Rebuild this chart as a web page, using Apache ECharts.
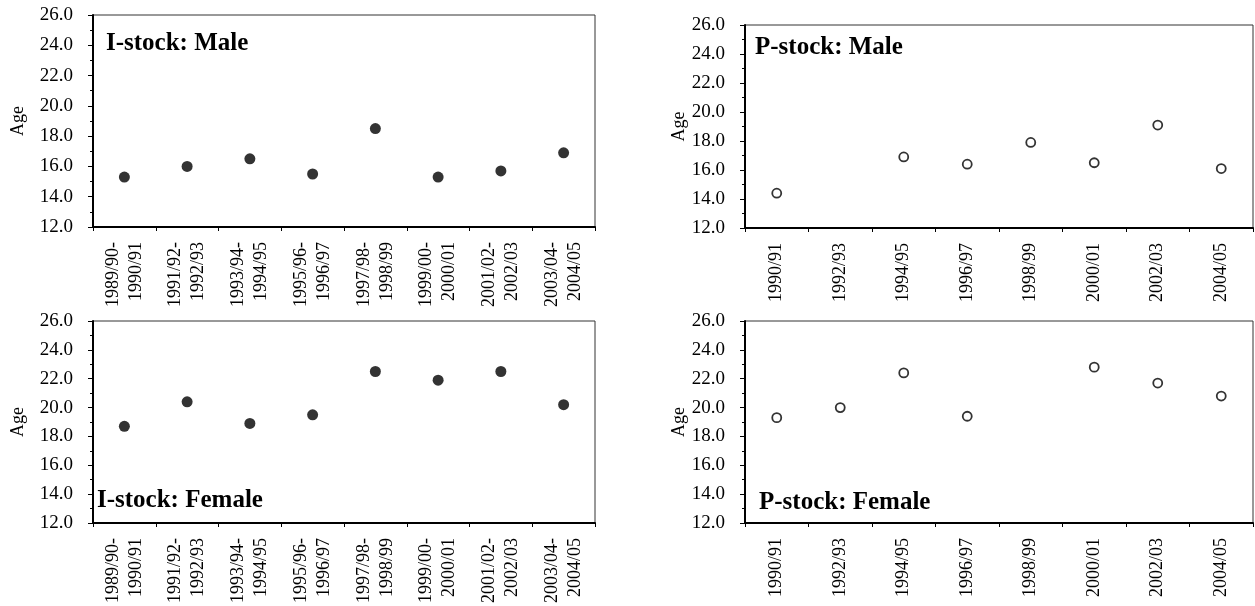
<!DOCTYPE html>
<html>
<head>
<meta charset="utf-8">
<script src="https://cdn.jsdelivr.net/npm/echarts@6/dist/echarts.min.js"></script>
<style>
  html, body { margin: 0; padding: 0; background: #fff; }
  #chart { width: 1255px; height: 606px; }
</style>
</head>
<body>
<div id="chart"></div>
<script>
// categories
const iStockYears = ['1989/90-\n1990/91', '1991/92-\n1992/93', '1993/94-\n1994/95', '1995/96-\n1996/97',
  '1997/98-\n1998/99', '1999/00-\n2000/01', '2001/02-\n2002/03', '2003/04-\n2004/05']
const pStockYears = ['1990/91', '1992/93', '1994/95', '1996/97', '1998/99', '2000/01', '2002/03', '2004/05']

// mean age values
const iStockMale = [15.3, 16.0, 16.5, 15.5, 18.5, 15.3, 15.7, 16.9]
const iStockFemale = [18.7, 20.4, 18.9, 19.5, 22.5, 21.9, 22.5, 20.2]
const pStockMale = [14.4, null, 16.9, 16.4, 17.9, 16.5, 19.1, 16.1]
const pStockFemale = [19.3, 20.0, 22.4, 19.4, null, 22.8, 21.7, 20.8]

const panelTitles = ['I-stock: Male', 'I-stock: Female', 'P-stock: Male', 'P-stock: Female']

const FONT = 'Liberation Serif'

const chart = echarts.init(document.getElementById('chart'))

// plot areas (left panels, right panels)
const grids = [
  { left: 93, top: 15, width: 502, height: 212 },
  { left: 93, top: 321, width: 502, height: 202 },
  { left: 745, top: 25, width: 508, height: 203 },
  { left: 745, top: 321, width: 508, height: 202 }
]

function makeXAxis(idx, cats) {
  return {
    type: 'category',
    gridIndex: idx,
    data: cats,
    boundaryGap: true,
    axisLine: { lineStyle: { color: '#000', width: 2 } },
    axisTick: { show: true, length: 4, lineStyle: { color: '#000' } },
    axisLabel: {
      interval: 0,
      rotate: 90,
      margin: 15,
      color: '#000',
      fontFamily: FONT,
      fontSize: 18,
      lineHeight: 23
    },
    splitLine: { show: false }
  }
}

function makeYAxis(idx, nameGap) {
  return {
    type: 'value',
    gridIndex: idx,
    min: 12,
    max: 26,
    interval: 2,
    name: 'Age',
    nameLocation: 'middle',
    nameRotate: 90,
    nameGap: nameGap,
    nameTextStyle: { color: '#000', fontFamily: FONT, fontSize: 18 },
    axisLine: { show: true, lineStyle: { color: '#000', width: 2 } },
    axisTick: { show: true, length: 5, lineStyle: { color: '#000' } },
    minorTick: { show: true, splitNumber: 2, length: 3, lineStyle: { color: '#000' } },
    axisLabel: {
      color: '#000',
      fontFamily: FONT,
      fontSize: 19,
      margin: 20,
      formatter: (v) => v.toFixed(1)
    },
    splitLine: { show: false }
  }
}

function makeSeries(idx, values, hollow) {
  return {
    type: 'scatter',
    xAxisIndex: idx,
    yAxisIndex: idx,
    data: values,
    symbol: 'circle',
    symbolSize: hollow ? 9 : 11,
    itemStyle: hollow
      ? { color: '#fff', borderColor: '#000', borderWidth: 1.8 }
      : { color: '#000' },
    silent: true
  }
}

const titleStyle = { color: '#000', fontFamily: FONT, fontSize: 25, fontWeight: 'bold' }

const options = {
  animation: false,
  title: [
    { text: panelTitles[0], left: 106, top: 31, textStyle: titleStyle, padding: 0 },
    { text: panelTitles[1], left: 97, top: 488, textStyle: titleStyle, padding: 0 },
    { text: panelTitles[2], left: 755, top: 35, textStyle: titleStyle, padding: 0 },
    { text: panelTitles[3], left: 759, top: 490, textStyle: titleStyle, padding: 0 }
  ],
  grid: grids.map((g) => Object.assign({ show: true, borderColor: '#333', borderWidth: 1, backgroundColor: 'transparent' }, g)),
  xAxis: [
    makeXAxis(0, iStockYears),
    makeXAxis(1, iStockYears),
    makeXAxis(2, pStockYears),
    makeXAxis(3, pStockYears)
  ],
  yAxis: [
    makeYAxis(0, 66),
    makeYAxis(1, 66),
    makeYAxis(2, 48),
    makeYAxis(3, 48)
  ],
  series: [
    makeSeries(0, iStockMale, false),
    makeSeries(1, iStockFemale, false),
    makeSeries(2, pStockMale, true),
    makeSeries(3, pStockFemale, true)
  ]
}

chart.setOption(options)
</script>
</body>
</html>
